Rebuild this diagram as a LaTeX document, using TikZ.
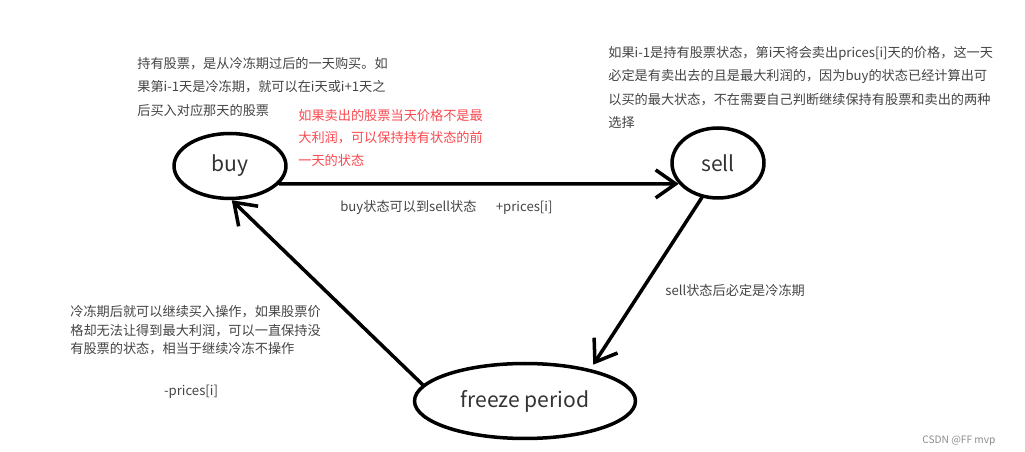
\documentclass[tikz,border=0pt]{standalone}
\usepackage{fontspec}
\setmainfont{Noto Sans CJK SC}
\usetikzlibrary{arrows.meta,shapes.geometric}
\definecolor{zi}{RGB}{68,68,68}
\definecolor{hong}{RGB}{250,72,78}
\begin{document}
\begin{tikzpicture}[x=0.02cm,y=-0.02cm,line cap=round,line join=round]
	\useasboundingbox (0,0) rectangle (1025,452);
	\tikzset{zt/.style={ellipse,draw,line width=2pt,inner sep=0pt,text=black!80,font=\fontsize{12}{14}\selectfont},
		ghi/.style={anchor=north west,inner sep=0pt,align=left,text=zi,font=\fontsize{7.5}{13.3}\selectfont},
		jt/.style={line width=2pt,-{Straight Barb[length=4mm,width=5.6mm]}}}
	\node[zt,minimum width=2.24cm,minimum height=1.3cm] (buy) at (230,166) {buy};
	\node[zt,minimum width=1.84cm,minimum height=1.4cm] (sell) at (718,163) {sell};
	\node[zt,minimum width=4.42cm,minimum height=1.5cm] (freeze) at (525,401) {freeze period};
	\draw[jt] (buy.-20) -- (sell.-152);
	\draw[jt,shorten >=3pt] (sell.-115) -- (freeze.26);
	\draw[jt] (freeze.171) -- (buy.-87);
	\node[ghi] (t1) at (137,57) {持有股票，是从冷冻期过后的一天购买。如\\果第i-1天是冷冻期，就可以在i天或i+1天之\\后买入对应那天的股票};
	\node[ghi,text=hong,font=\fontsize{7.5}{12.75}\selectfont] (t2) at (298,109) {如果卖出的股票当天价格不是最\\大利润，可以保持持有状态的前\\一天的状态};
	\node[ghi] (t3) at (608,46) {如果i-1是持有股票状态，第i天将会卖出prices[i]天的价格，这一天\\必定是有卖出去的且是最大利润的，因为buy的状态已经计算出可\\以买的最大状态，不在需要自己判断继续保持有股票和卖出的两种\\选择};
	\node[ghi,font=\fontsize{7.5}{10.6}\selectfont] (t4) at (70,305) {冷冻期后就可以继续买入操作，如果股票价\\格却无法让得到最大利润，可以一直保持没\\有股票的状态，相当于继续冷冻不操作};
	\node[ghi,anchor=center] (fu) at (191,392) {-prices[i]};
	\node[ghi,anchor=west] (l1) at (340,207) {buy状态可以到sell状态\hspace{11pt}+prices[i]};
	\node[ghi,anchor=west] (l2) at (665,290) {sell状态后必定是冷冻期};
	\node[ghi,anchor=west,text=black!45,font=\fontsize{5.8}{7}\selectfont] (wm) at (922,441) {CSDN @FF mvp};
\end{tikzpicture}
\end{document}
